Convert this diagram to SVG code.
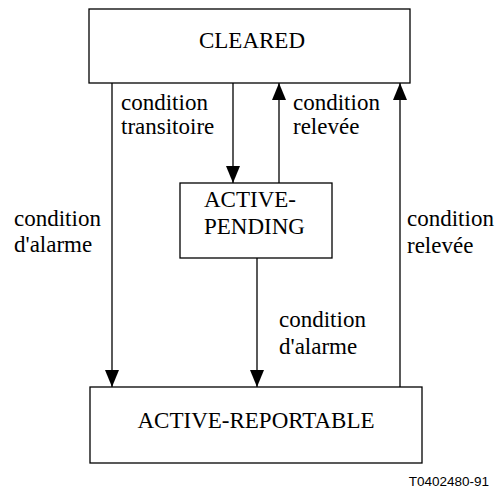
<svg xmlns="http://www.w3.org/2000/svg" width="499" height="490" viewBox="0 0 499 490">
<style>
.box{fill:#fff;stroke:#000;stroke-width:1.3}
.ln{fill:none;stroke:#000;stroke-width:1.3}
.t{font-family:"Liberation Serif","Times New Roman",serif;font-size:23px;fill:#000}
.c{text-anchor:middle}
.ref{font-family:"Liberation Sans",Arial,sans-serif;font-size:13.5px;fill:#000}
</style>
<defs>
<marker id="ah" markerUnits="userSpaceOnUse" markerWidth="17" markerHeight="14" refX="17" refY="7" orient="auto" viewBox="0 0 17 14">
<path d="M0,0 L17,7 L0,14 Z" fill="#000"/>
</marker>
</defs>
<rect width="499" height="490" fill="#fff"/>
<g id="connectors">
<line class="ln" x1="112" y1="83" x2="112" y2="387" marker-end="url(#ah)"/>
<line class="ln" x1="233" y1="83" x2="233" y2="183" marker-end="url(#ah)"/>
<line class="ln" x1="279" y1="183" x2="279" y2="83" marker-end="url(#ah)"/>
<line class="ln" x1="257" y1="258" x2="257" y2="387" marker-end="url(#ah)"/>
<line class="ln" x1="400" y1="387" x2="400" y2="83" marker-end="url(#ah)"/>
<text class="t" x="121" y="110">condition</text>
<text class="t" x="121" y="134">transitoire</text>
<text class="t" x="293" y="110">condition</text>
<text class="t" x="293" y="134">relevée</text>
<text class="t" x="14" y="226">condition</text>
<text class="t" x="14" y="252">d'alarme</text>
<text class="t" x="407" y="226">condition</text>
<text class="t" x="407" y="253">relevée</text>
<text class="t" x="279" y="327">condition</text>
<text class="t" x="279" y="354">d'alarme</text>
</g>
<g id="cleared">
<rect class="box" x="89" y="9" width="321" height="74"/>
<text class="t c" x="252" y="48">CLEARED</text>
</g>
<g id="active-pending">
<rect class="box" x="180" y="183" width="152" height="75"/>
<text class="t" x="204" y="207">ACTIVE-</text>
<text class="t" x="204" y="234">PENDING</text>
</g>
<g id="active-reportable">
<rect class="box" x="90" y="387" width="332" height="76"/>
<text class="t c" x="256" y="428">ACTIVE-REPORTABLE</text>
</g>
<text class="ref" x="489" y="486" text-anchor="end">T0402480-91</text>
</svg>
